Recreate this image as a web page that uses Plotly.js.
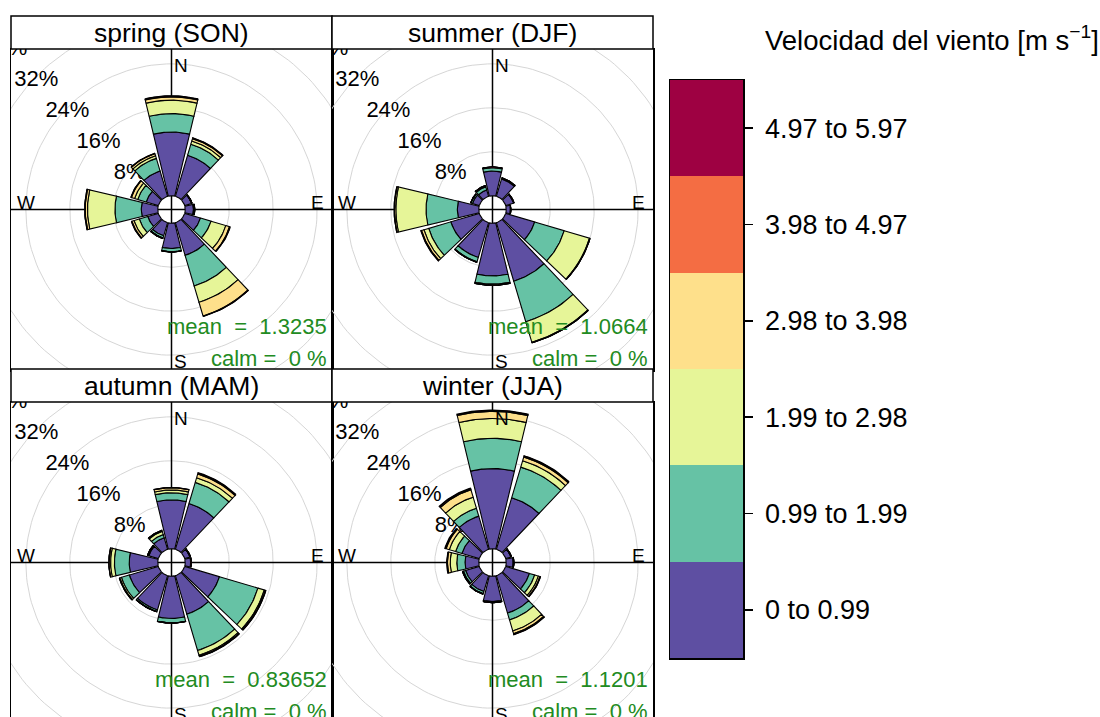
<!DOCTYPE html>
<html>
<head>
<meta charset="utf-8">
<script src="https://cdn.plot.ly/plotly-3.0.1.min.js"></script>
<style>
  html, body { margin: 0; padding: 0; background: #ffffff; }
  #chart { width: 1100px; height: 717px; }
</style>
</head>
<body>
<div id="chart"></div>
<script>
// Wind direction sectors, degrees clockwise from north (30° bins)
const directions = [0, 30, 60, 90, 120, 150, 180, 210, 240, 270, 300, 330];

// Wind speed intervals [m s-1] and their colours
const speedBins = ["0 to 0.99", "0.99 to 1.99", "1.99 to 2.98", "2.98 to 3.98", "3.98 to 4.97", "4.97 to 5.97"];
const speedColors = ["#5E4FA2", "#66C2A5", "#E6F598", "#FEE08B", "#F46D43", "#9E0142"];

// Frequency of occurrence (%) per direction, one array per speed interval
// spring (SON)
const springWs1 = [11.6, 7.8, 1.3, 1.5, 3.0, 6.2, 4.6, 2.5, 2.0, 3.0, 2.3, 4.8];
const springWs2 = [3.35, 2.1, 0.1, 0.2, 2.0, 5.8, 0.6, 0.4, 1.6, 4.8, 1.6, 2.4];
const springWs3 = [2.45, 0.6, 0.0, 0.05, 2.8, 3.1, 0.05, 0.1, 1.0, 5.0, 0.6, 0.5];
const springWs4 = [0.6, 0.45, 0.0, 0.0, 0.7, 2.6, 0.0, 0.0, 0.4, 0.4, 0.6, 0.4];
const springWs5 = [0.15, 0.1, 0.0, 0.0, 0.1, 0.08, 0.0, 0.0, 0.1, 0.1, 0.1, 0.05];
const springWs6 = [0.05, 0.05, 0.0, 0.0, 0.05, 0.02, 0.0, 0.0, 0.0, 0.0, 0.0, 0.0];
// summer (DJF)
const summerWs1 = [4.5, 3.3, 1.5, 0.8, 5.5, 11.1, 9.6, 6.6, 5.4, 3.9, 1.3, 1.2];
const summerWs2 = [0.6, 0.15, 0.1, 0.05, 5.6, 7.7, 1.5, 0.8, 4.2, 5.7, 0.3, 0.6];
const summerWs3 = [0.1, 0.05, 0.0, 0.0, 4.8, 3.9, 0.15, 0.1, 0.9, 5.5, 0.05, 0.2];
const summerWs4 = [0.05, 0.0, 0.0, 0.0, 0.1, 0.1, 0.05, 0.0, 0.45, 0.25, 0.0, 0.05];
const summerWs5 = [0.0, 0.0, 0.0, 0.0, 0.0, 0.0, 0.0, 0.0, 0.1, 0.05, 0.0, 0.0];
const summerWs6 = [0.0, 0.0, 0.0, 0.0, 0.0, 0.0, 0.0, 0.0, 0.05, 0.0, 0.0, 0.0];
// autumn (MAM)
const autumnWs1 = [8.9, 8.7, 1.0, 1.0, 6.6, 7.3, 7.7, 6.5, 5.5, 5.2, 1.8, 2.2];
const autumnWs2 = [1.3, 4.0, 0.1, 0.1, 7.3, 6.9, 0.8, 0.3, 1.5, 2.7, 0.2, 0.6];
const autumnWs3 = [0.5, 0.9, 0.0, 0.0, 1.2, 0.9, 0.05, 0.05, 0.3, 0.7, 0.05, 0.6];
const autumnWs4 = [0.4, 0.7, 0.0, 0.0, 0.2, 0.2, 0.0, 0.0, 0.1, 0.3, 0.0, 0.2];
const autumnWs5 = [0.05, 0.15, 0.0, 0.0, 0.1, 0.1, 0.0, 0.0, 0.0, 0.0, 0.0, 0.0];
const autumnWs6 = [0.0, 0.1, 0.0, 0.0, 0.0, 0.0, 0.0, 0.0, 0.0, 0.0, 0.0, 0.0];
// winter (JJA)
const winterWs1 = [14.6, 9.8, 1.0, 1.3, 4.5, 7.1, 4.6, 3.0, 2.6, 2.5, 3.3, 6.3];
const winterWs2 = [5.5, 5.8, 0.1, 0.1, 1.0, 1.3, 0.15, 0.4, 0.4, 1.5, 1.2, 1.5];
const winterWs3 = [3.6, 1.2, 0.0, 0.0, 0.7, 2.1, 0.05, 0.1, 0.15, 1.2, 1.2, 2.1];
const winterWs4 = [1.3, 0.7, 0.0, 0.0, 0.3, 0.5, 0.0, 0.0, 0.05, 0.5, 0.6, 1.4];
const winterWs5 = [0.15, 0.15, 0.0, 0.0, 0.1, 0.15, 0.0, 0.0, 0.0, 0.1, 0.15, 0.2];
const winterWs6 = [0.1, 0.1, 0.0, 0.0, 0.0, 0.05, 0.0, 0.0, 0.0, 0.05, 0.1, 0.1];

// Panel titles and summary statistics
const seasonTitles = ["spring (SON)", "summer (DJF)", "autumn (MAM)", "winter (JJA)"];
const meanSpeed = ["1.3235", "1.0664", "0.83652", "1.1201"];
const calmPct = [0, 0, 0, 0];

// Grid circles (% frequency)
const ringSteps = [8, 16, 24, 32, 40];

const seasonData = [
  [springWs1, springWs2, springWs3, springWs4, springWs5, springWs6],
  [summerWs1, summerWs2, summerWs3, summerWs4, summerWs5, summerWs6],
  [autumnWs1, autumnWs2, autumnWs3, autumnWs4, autumnWs5, autumnWs6],
  [winterWs1, winterWs2, winterWs3, winterWs4, winterWs5, winterWs6]
];

// ---- page geometry ----
const W = 1100, H = 717;
const PANEL = 321, STRIP = 33;
const colLeft = [11, 332];
const stripTop = [16, 369];
const R = 29.2;          // half extent of each panel, in % units
const HOLE = 2.5;        // radius of the central hole, in % units
const SPAN = 27;         // angular width of a petal, degrees
const PX = PANEL / (2 * R);
const FONT = "Liberation Sans, Arial, sans-serif";
const GREEN = "#228B22";

const rad = d => d * Math.PI / 180;

// append one annular sector (petal segment) to the coordinate lists
function addSector(dir, r0, r1, xs, ys) {
  const n = 24, a0 = dir - SPAN / 2;
  const start = xs.length;
  for (let i = 0; i <= n; i++) {
    const t = rad(a0 + SPAN * i / n);
    xs.push((HOLE + r0) * Math.sin(t)); ys.push((HOLE + r0) * Math.cos(t));
  }
  for (let i = n; i >= 0; i--) {
    const t = rad(a0 + SPAN * i / n);
    xs.push((HOLE + r1) * Math.sin(t)); ys.push((HOLE + r1) * Math.cos(t));
  }
  xs.push(xs[start]); ys.push(ys[start]);
  xs.push(null); ys.push(null);
}

const traces = [];
const annotations = [];
const shapes = [];
const layout = {
  width: W, height: H,
  margin: { l: 0, r: 0, t: 0, b: 0 },
  paper_bgcolor: "#ffffff", plot_bgcolor: "#ffffff",
  showlegend: false,
  bargap: 0,
  font: { family: FONT, color: "#000" }
};

seasonData.forEach((bins, p) => {
  const col = p % 2, row = Math.floor(p / 2);
  const k = p + 1;
  const xa = "x" + k, ya = "y" + k;
  const left = colLeft[col];
  const top = stripTop[row] + STRIP;
  const bottom = Math.min(top + PANEL, H);

  layout["xaxis" + k] = {
    domain: [left / W, (left + PANEL) / W], range: [-R, R],
    showgrid: false, zeroline: false, showticklabels: false, ticks: "",
    showline: true, mirror: row === 0, side: row === 0 ? "bottom" : "top",
    linecolor: "#000", linewidth: 1.5, anchor: ya, fixedrange: true
  };
  layout["yaxis" + k] = {
    domain: [1 - bottom / H, 1 - top / H], range: [R - (bottom - top) / PX, R],
    showgrid: false, zeroline: false, showticklabels: false, ticks: "",
    showline: true, mirror: true, linecolor: "#000", linewidth: 1.5,
    anchor: xa, fixedrange: true
  };

  // grid circles
  const gx = [], gy = [];
  ringSteps.forEach(v => {
    for (let a = 0; a <= 360; a += 2) {
      gx.push((HOLE + v) * Math.sin(rad(a))); gy.push((HOLE + v) * Math.cos(rad(a)));
    }
    gx.push(null); gy.push(null);
  });
  traces.push({ type: "scatter", mode: "lines", x: gx, y: gy, xaxis: xa, yaxis: ya,
    line: { color: "#D6D6D6", width: 1 }, hoverinfo: "skip" });

  // circle labels along the north-west diagonal
  traces.push({ type: "scatter", mode: "text", xaxis: xa, yaxis: ya,
    x: ringSteps.map(v => (HOLE + v) * Math.sin(rad(315)) - 0.2),
    y: ringSteps.map(v => (HOLE + v) * Math.cos(rad(315)) - 0.9),
    text: ringSteps.map(v => v + "%"), textposition: "middle center",
    textfont: { family: FONT, size: 22, color: "#000" }, hoverinfo: "skip" });

  // compass cross
  traces.push({ type: "scatter", mode: "lines", xaxis: xa, yaxis: ya,
    x: [-R, R, null, 0, 0], y: [0, 0, null, -R, R],
    line: { color: "#000", width: 1.5 }, hoverinfo: "skip" });

  // stacked petals, one trace per speed interval
  const cum = directions.map(() => 0);
  bins.forEach((vals, b) => {
    const xs = [], ys = [];
    directions.forEach((d, i) => {
      addSector(d, cum[i], cum[i] + vals[i], xs, ys);
      cum[i] += vals[i];
    });
    traces.push({ type: "scatter", mode: "lines", x: xs, y: ys, xaxis: xa, yaxis: ya,
      fill: "toself", fillcolor: speedColors[b],
      line: { color: "#000", width: 1.1 }, hoverinfo: "skip" });
  });

  // compass letters
  const letter = (text, x, y, xanchor) => annotations.push({
    xref: xa, yref: ya, x: x, y: y, text: text, showarrow: false,
    xanchor: xanchor, yanchor: "middle", font: { family: FONT, size: 19, color: "#000" } });
  letter("N", 0, 26.2, "left");
  letter("E", 28.1, 1.2, "right");
  letter("S", 0, -27.6, "left");
  letter("W", -28.5, 1.2, "left");

  // summary statistics
  const sp = "\u00a0";
  annotations.push({ xref: xa, yref: ya, x: 28.6, y: -21.3, showarrow: false,
    text: "mean" + sp + sp + "=" + sp + sp + meanSpeed[p], xanchor: "right", yanchor: "middle",
    font: { family: FONT, size: 22, color: GREEN } });
  annotations.push({ xref: xa, yref: ya, x: 28.6, y: -27.1, showarrow: false,
    text: "calm" + sp + "=" + sp + sp + calmPct[p] + sp + "%", xanchor: "right", yanchor: "middle",
    font: { family: FONT, size: 22, color: GREEN } });

  // strip with the season name
  const sTop = stripTop[row];
  shapes.push({ type: "rect", xref: "paper", yref: "paper",
    x0: left / W, x1: (left + PANEL) / W, y0: 1 - (sTop + STRIP) / H, y1: 1 - sTop / H,
    line: { color: "#000", width: 1.5 }, fillcolor: "#ffffff" });
  annotations.push({ xref: "paper", yref: "paper", x: (left + PANEL / 2) / W, y: 1 - (sTop + STRIP / 2) / H,
    text: seasonTitles[p], showarrow: false, xanchor: "center", yanchor: "middle",
    font: { family: FONT, size: 26.5, color: "#000" } });
});

// colour key for the speed intervals
traces.push({ type: "bar", orientation: "h", xaxis: "x5", yaxis: "y5",
  x: speedBins.map(() => 1), y: speedBins, width: 1,
  marker: { color: speedColors, line: { width: 0 } }, hoverinfo: "skip" });
layout.xaxis5 = { domain: [670 / W, 743 / W], range: [0, 1], anchor: "y5",
  showgrid: false, zeroline: false, showticklabels: false, ticks: "",
  showline: true, mirror: true, linecolor: "#000", linewidth: 1.5, fixedrange: true };
layout.yaxis5 = { domain: [1 - 658 / H, 1 - 80 / H], range: [-0.5, speedBins.length - 0.5],
  type: "category", anchor: "x5", side: "right",
  showgrid: false, zeroline: false, ticks: "outside", ticklen: 8, tickwidth: 1.5, tickcolor: "#000",
  ticklabelstandoff: 7,
  showline: true, mirror: true, linecolor: "#000", linewidth: 1.5,
  tickfont: { family: FONT, size: 27, color: "#000" }, fixedrange: true };
annotations.push({ xref: "paper", yref: "paper", x: 763 / W, y: 1 - 39 / H,
  text: "Velocidad del viento [m s<sup>\u22121</sup>]", showarrow: false,
  xanchor: "left", yanchor: "middle", font: { family: FONT, size: 27.5, color: "#000" } });

layout.annotations = annotations;
layout.shapes = shapes;

Plotly.newPlot("chart", traces, layout, { staticPlot: true, displayModeBar: false });
</script>
</body>
</html>
